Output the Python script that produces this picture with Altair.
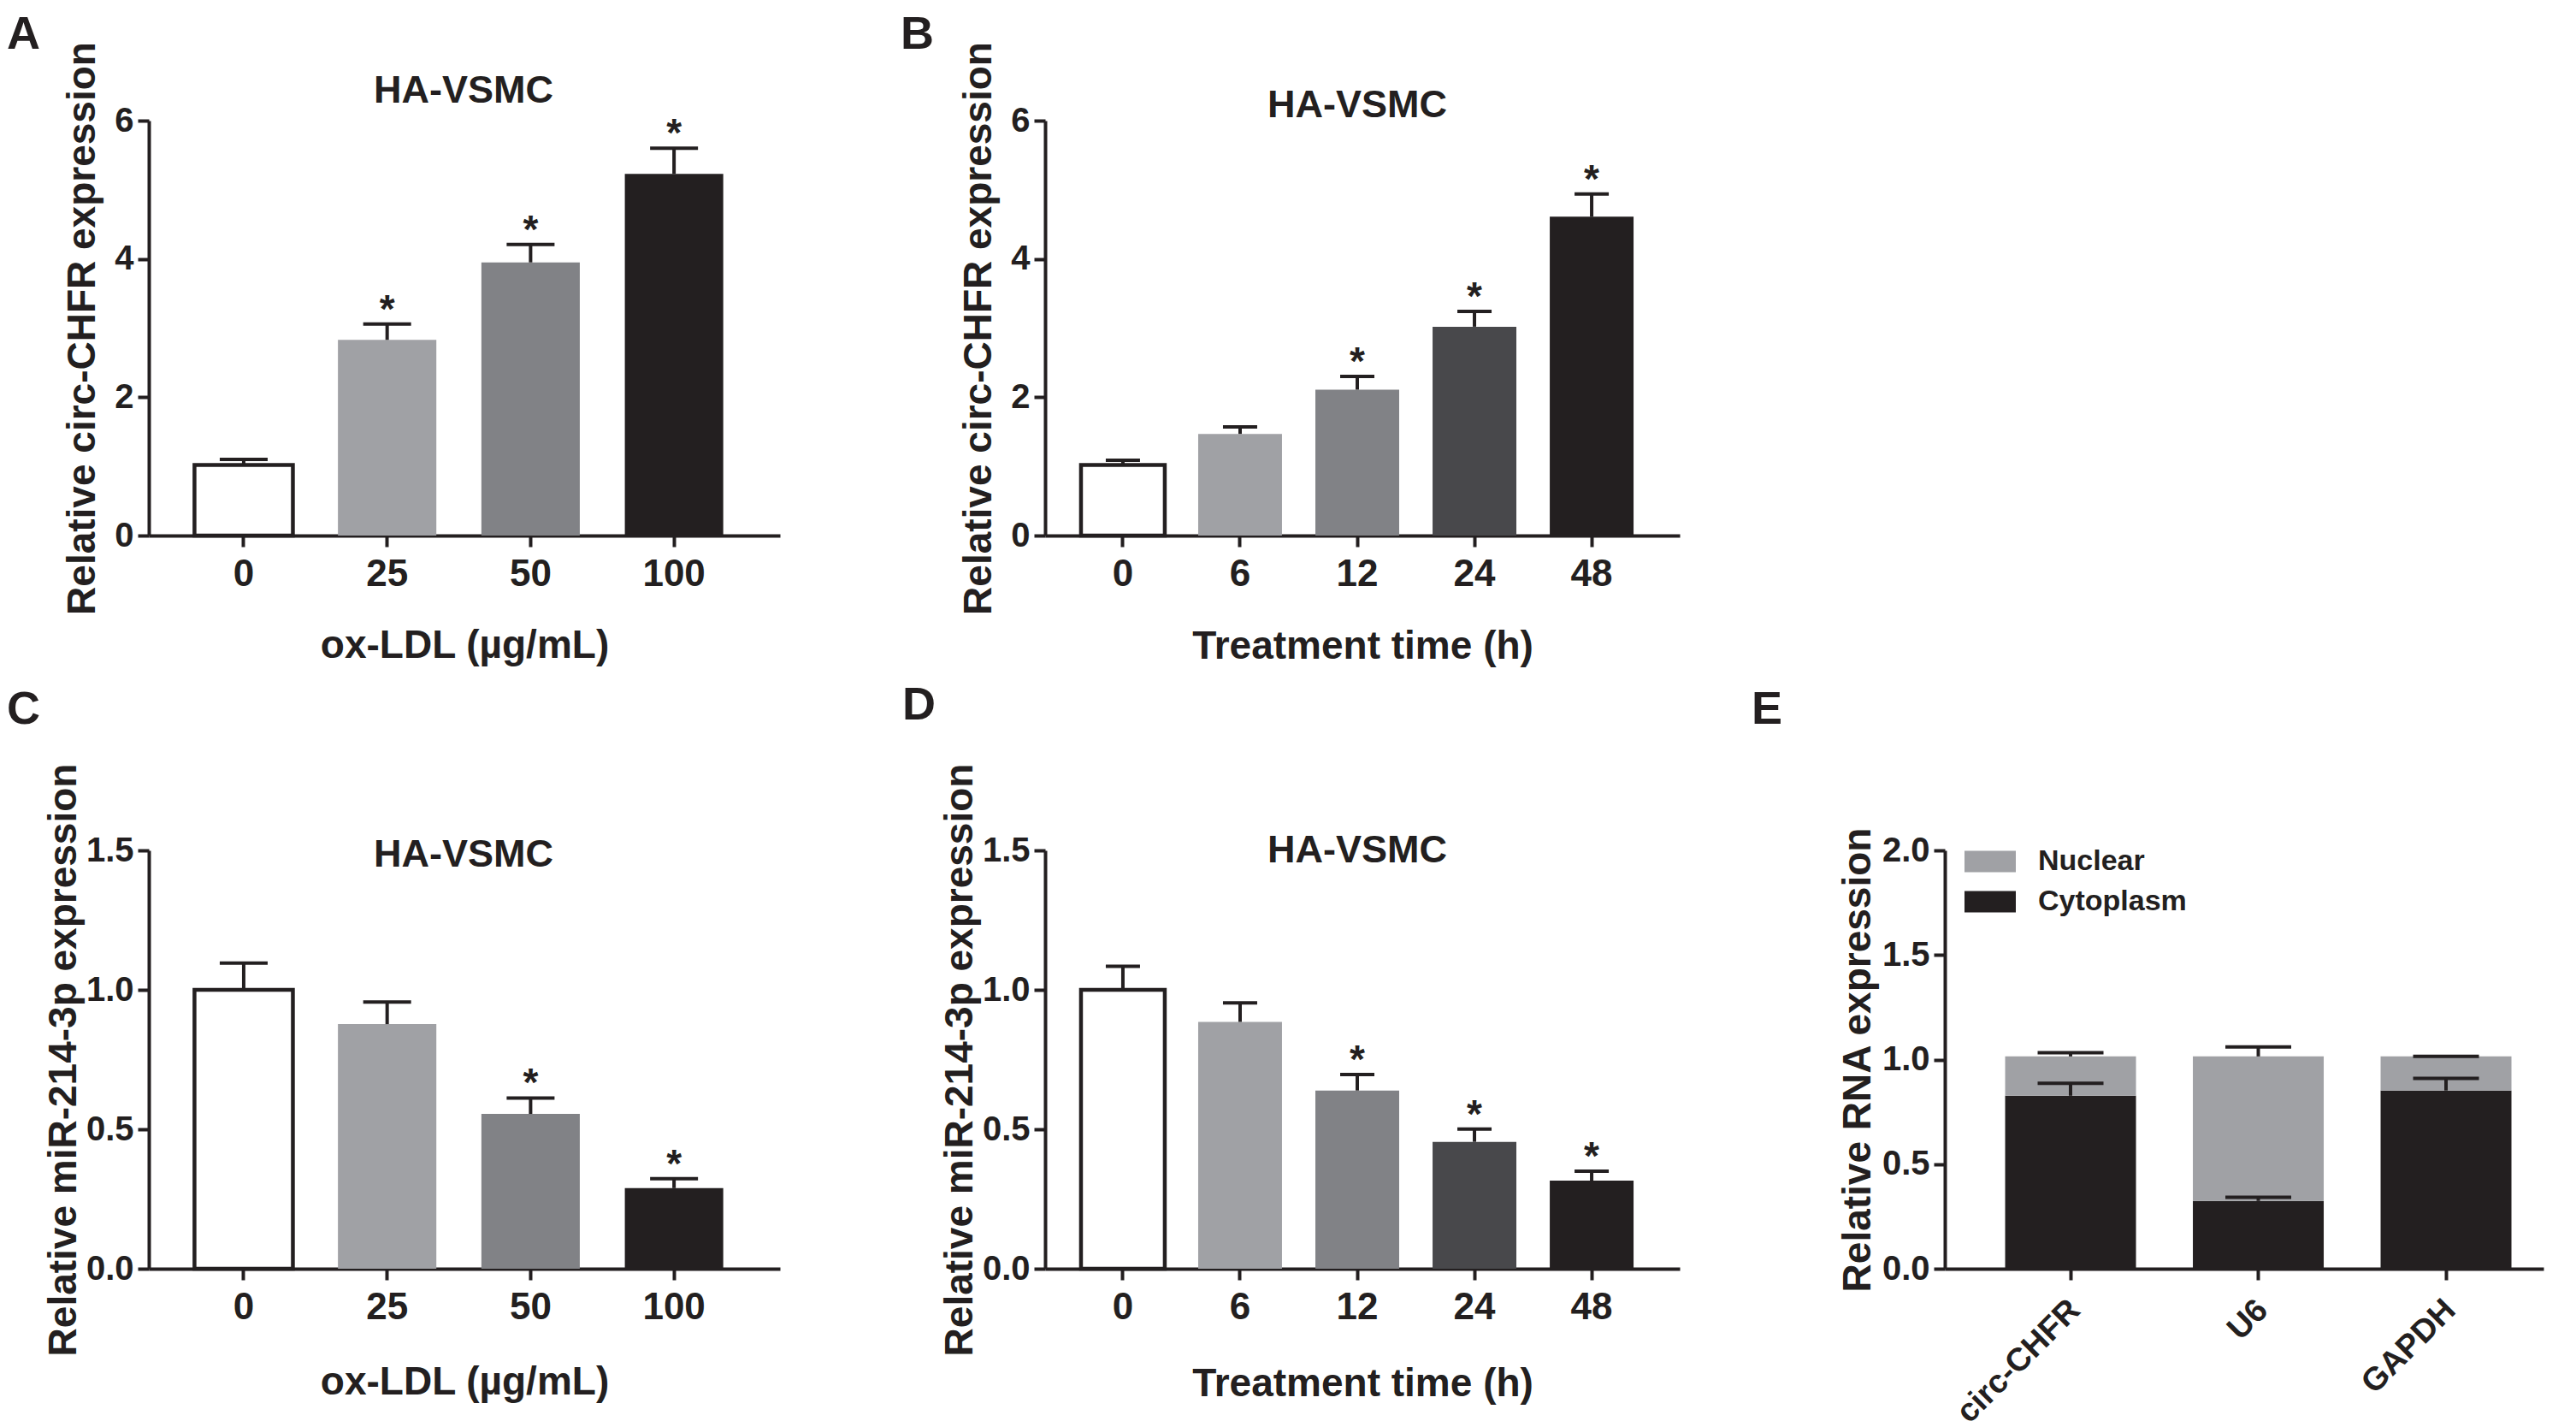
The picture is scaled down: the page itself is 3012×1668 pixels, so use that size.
import altair as alt
import numpy as np
import pandas as pd

FONT = "Liberation Sans"
INK = "#231f20"
WHITE = "#ffffff"
LG = "#a0a1a5"
MG = "#818286"
DG = "#48484b"

# ---------------- data ----------------
a_cats = ["0", "25", "50", "100"]
a_vals = [1.02, 2.83, 3.95, 5.23]
a_errs = [0.08, 0.23, 0.26, 0.37]
a_sig = ["", "*", "*", "*"]
a_fill = [WHITE, LG, MG, INK]

b_cats = ["0", "6", "12", "24", "48"]
b_vals = [1.02, 1.47, 2.11, 3.02, 4.61]
b_errs = [0.07, 0.10, 0.19, 0.22, 0.33]
b_sig = ["", "", "*", "*", "*"]
b_fill = [WHITE, LG, MG, DG, INK]

c_cats = ["0", "25", "50", "100"]
c_vals = [1.00, 0.877, 0.555, 0.289]
c_errs = [0.096, 0.079, 0.057, 0.034]
c_sig = ["", "", "*", "*"]
c_fill = [WHITE, LG, MG, INK]

d_cats = ["0", "6", "12", "24", "48"]
d_vals = [1.00, 0.885, 0.639, 0.455, 0.316]
d_errs = [0.084, 0.068, 0.057, 0.046, 0.034]
d_sig = ["", "", "*", "*", "*"]
d_fill = [WHITE, LG, MG, DG, INK]

e_cats = ["circ-CHFR", "U6", "GAPDH"]
e_cyto = [0.827, 0.324, 0.852]
e_cyto_err = [0.059, 0.018, 0.058]
e_nuc = [0.188, 0.691, 0.163]
e_nuc_err = [0.018, 0.045, 0.0]
e_parts = ["Nuclear", "Cytoplasm"]

cell_name = "HA-VSMC"

W1, W2, W3 = 738, 742, 700
H1, H2 = 485, 489
COLSP, ROWSP = 310, 368


def text_layer(txt, x, y, size, align, baseline):
    return alt.Chart(pd.DataFrame({"t": [txt]})).mark_text(
        align=align, baseline=baseline, fontSize=size, fontWeight="bold",
        font=FONT, color=INK
    ).encode(x=alt.value(x), y=alt.value(y), text="t:N")


def simple_panel(cats, vals, errs, sig, fills, ytitle, xtitle, ymax, ystep, yfmt,
                 width, height, pin, pout, palign, cap, ytp, xtp,
                 letter, lx, ly, tx, ty):
    df = pd.DataFrame({"cat": cats, "val": vals, "err": errs, "sig": sig, "fill": fills})
    df["top"] = df["val"] + df["err"]
    df["sw"] = [4.5 if f == WHITE else 0 for f in fills]
    xenc = alt.X("cat:N", sort=cats,
                 scale=alt.Scale(paddingInner=pin, paddingOuter=pout, align=palign),
                 axis=alt.Axis(title=xtitle, labelAngle=0, labelFontSize=44,
                               labelPadding=10, titleFontSize=46, titlePadding=xtp))
    ticks = [round(v, 3) for v in np.arange(0, ymax + 1e-9, ystep)]
    yscale = alt.Scale(domain=[0, ymax], nice=False, zero=True)
    yaxis = alt.Axis(title=ytitle, values=ticks, format=yfmt, labelFontSize=40,
                     labelPadding=5, titleFontSize=46, titlePadding=ytp, labelFlush=False)
    base = alt.Chart(df)
    bars = base.mark_bar().encode(
        x=xenc, y=alt.Y("val:Q", scale=yscale, axis=yaxis),
        fill=alt.Fill("fill:N", scale=None),
        stroke=alt.value(INK),
        strokeWidth=alt.StrokeWidth("sw:Q", scale=None),
    )
    stem = base.mark_rule(color=INK, strokeWidth=4).encode(
        x=xenc, y=alt.Y("val:Q", scale=yscale, axis=yaxis), y2="top:Q")
    capm = base.mark_tick(orient="horizontal", size=cap, thickness=4, color=INK, opacity=1).encode(
        x=xenc, y=alt.Y("top:Q", scale=yscale, axis=yaxis))
    star = base.mark_text(fontSize=46, fontWeight="bold", font=FONT, color=INK,
                          baseline="alphabetic", dy=-2).encode(
        x=xenc, y=alt.Y("top:Q", scale=yscale, axis=yaxis), text="sig:N")
    head = text_layer(cell_name, tx, ty, 45, "center", "alphabetic")
    let = text_layer(letter, lx, ly, 54, "left", "top")
    return alt.layer(bars, stem, capm, star, head, let).properties(width=width, height=height)


pA = simple_panel(a_cats, a_vals, a_errs, a_sig, a_fill, "Relative circ-CHFR expression",
                  "ox-LDL (µg/mL)", 6, 2, "d", W1, H1, 0.314, 0.357, 0.446, 56, 13, 39,
                  "A", -166, -127, 368, -21)
pB = simple_panel(b_cats, b_vals, b_errs, b_sig, b_fill, "Relative circ-CHFR expression",
                  "Treatment time (h)", 6, 2, "d", W2, H1, 0.285, 0.35, 0.4375, 40, 13, 40,
                  "B", -169, -127, 365, -4)
pC = simple_panel(c_cats, c_vals, c_errs, c_sig, c_fill, "Relative miR-214-3p expression",
                  "ox-LDL (µg/mL)", 1.5, 0.5, ".1f", W1, H2, 0.314, 0.357, 0.446, 56, 2, 43,
                  "C", -166, -191, 368, 19)
pD = simple_panel(d_cats, d_vals, d_errs, d_sig, d_fill, "Relative miR-214-3p expression",
                  "Treatment time (h)", 1.5, 0.5, ".1f", W2, H2, 0.285, 0.35, 0.4375, 40, 2, 45,
                  "D", -167, -196, 365, 14)

# ---------------- panel E (stacked) ----------------
rows = []
for i, c in enumerate(e_cats):
    rows.append({"cat": c, "part": "Cytoplasm", "lo": 0.0, "hi": e_cyto[i],
                 "top": e_cyto[i] + e_cyto_err[i]})
    tot = e_cyto[i] + e_nuc[i]
    rows.append({"cat": c, "part": "Nuclear", "lo": e_cyto[i], "hi": tot,
                 "top": tot + e_nuc_err[i]})
edf = pd.DataFrame(rows)
ex = alt.X("cat:N", sort=e_cats,
           scale=alt.Scale(paddingInner=0.303, paddingOuter=0.246, align=0.653),
           axis=alt.Axis(title=None, labelAngle=-45, labelAlign="right", labelBaseline="top",
                         labelFontSize=38, labelPadding=16, labelOffset=-8, labelLimit=600))
eys = alt.Scale(domain=[0, 2], nice=False, zero=True)
eya = alt.Axis(title="Relative RNA expression", values=[0, 0.5, 1.0, 1.5, 2.0], format=".1f",
               labelFontSize=40, labelPadding=5, titleFontSize=46, titlePadding=4, labelFlush=False)
# legend sits in the concat's coordinate frame (origin = top-left plot of panel A)
LEG_X = W1 + COLSP + W2 + COLSP + 23
LEG_Y = H1 + ROWSP - 17
ebase = alt.Chart(edf)
ebars = ebase.mark_bar().encode(
    x=ex, y=alt.Y("lo:Q", scale=eys, axis=eya), y2="hi:Q",
    color=alt.Color("part:N", scale=alt.Scale(domain=e_parts, range=[LG, INK]),
                    legend=alt.Legend(title=None, orient="none", legendX=LEG_X, legendY=LEG_Y,
                                      symbolType="M-1,-0.42H1V0.42H-1Z", symbolSize=3600,
                                      symbolStrokeWidth=0, labelFontSize=34, labelFont=FONT,
                                      labelFontWeight="bold", labelColor=INK, labelOffset=26,
                                      labelLimit=600, rowPadding=0, padding=0)),
)
estem = ebase.mark_rule(color=INK, strokeWidth=4).encode(
    x=ex, y=alt.Y("hi:Q", scale=eys, axis=eya), y2="top:Q")
ecap = ebase.mark_tick(orient="horizontal", size=77, thickness=4, color=INK, opacity=1).encode(
    x=ex, y=alt.Y("top:Q", scale=eys, axis=eya))
elet = text_layer("E", -226, -191, 54, "left", "top")
pE = alt.layer(ebars, estem, ecap, elet).properties(width=W3, height=H2)

blank = alt.Chart(pd.DataFrame({"v": [0]})).mark_point(opacity=0).encode(
    x=alt.X("v:Q", axis=None), y=alt.Y("v:Q", axis=None)).properties(width=W3, height=H1)

chart = alt.concat(pA, pB, blank, pC, pD, pE, columns=3,
                   spacing={"row": ROWSP, "column": COLSP}, bounds="flush").properties(
    padding={"left": 0, "top": 6, "right": 5, "bottom": 5}
).configure_view(stroke=None).configure_axis(
    domainColor=INK, domainWidth=4, tickColor=INK, tickWidth=4, tickSize=13,
    labelFont=FONT, labelFontWeight="bold", labelColor=INK,
    titleFont=FONT, titleFontWeight="bold", titleColor=INK, grid=False,
)

chart.save("out.html", embed_options={"renderer": "svg", "actions": False})
